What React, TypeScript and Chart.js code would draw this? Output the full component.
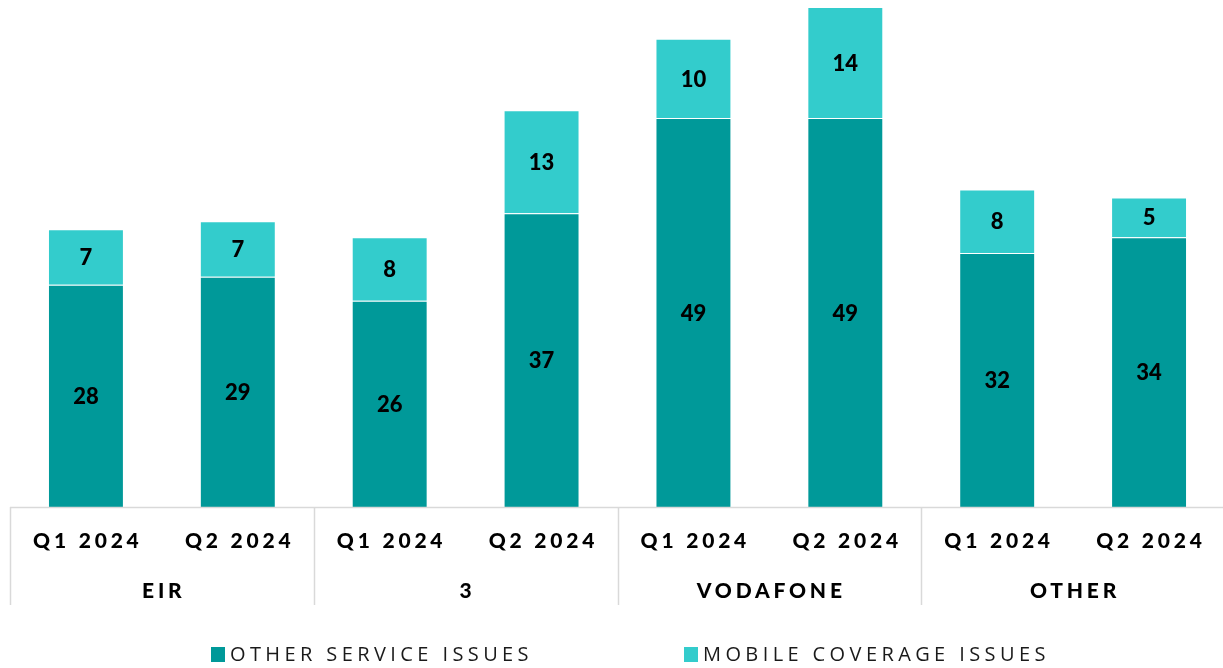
import React, { useEffect, useRef } from "react";
import { Chart, registerables } from "chart.js";

Chart.register(...registerables);

const categories = ["Q1 2024", "Q2 2024", "Q1 2024", "Q2 2024", "Q1 2024", "Q2 2024", "Q1 2024", "Q2 2024"];
const groups = ["EIR", "3", "VODAFONE", "OTHER"];
const otherServiceIssues = [28, 29, 26, 37, 49, 49, 32, 34];
const mobileCoverageIssues = [7, 7, 8, 13, 10, 14, 8, 5];
const seriesNames = ["OTHER SERVICE ISSUES", "MOBILE COVERAGE ISSUES"];
const seriesColors = ["#009999", "#33CCCC"];

const LABEL_FONT = "Lato, 'Open Sans', sans-serif";

const overlayPlugin = {
  id: "overlay",
  afterDatasetsDraw(chart: any) {
    const ctx = chart.ctx as CanvasRenderingContext2D;
    const area = chart.chartArea;
    const xs = chart.scales.x;
    // data labels
    ctx.save();
    ctx.fillStyle = "#000000";
    ctx.font = `900 22px ${LABEL_FONT}`;
    ctx.textAlign = "center";
    ctx.textBaseline = "middle";
    chart.data.datasets.forEach((ds: any, di: number) => {
      const meta = chart.getDatasetMeta(di);
      meta.data.forEach((bar: any, i: number) => {
        const y = (bar.y + bar.base) / 2;
        ctx.fillText(String(ds.data[i]), bar.x, y + 1);
      });
    });
    ctx.restore();

    // axis
    const n = chart.data.labels.length;
    const w = (area.right - area.left) / n;
    const base = area.bottom;
    ctx.save();
    ctx.strokeStyle = "#d9d9d9";
    ctx.lineWidth = 1.5;
    ctx.beginPath();
    ctx.moveTo(area.left, base + 0.5);
    ctx.lineTo(area.right, base + 0.5);
    for (let g = 0; g < groups.length; g++) {
      const x = Math.round(area.left + g * 2 * w) + 0.5;
      ctx.moveTo(x, base);
      ctx.lineTo(x, base + 98);
    }
    ctx.stroke();

    ctx.fillStyle = "#000000";
    ctx.textAlign = "center";
    ctx.textBaseline = "middle";
    ctx.font = `900 21px ${LABEL_FONT}`;
    (ctx as any).letterSpacing = "3.8px";
    categories.forEach((c, i) => {
      const x = xs.getPixelForValue(i);
      ctx.fillText(c, x + 1.9, base + 34);
    });
    groups.forEach((g, gi) => {
      const x = area.left + (gi * 2 + 1) * w;
      ctx.fillText(g, x + 1.9, base + 84);
    });

    // legend
    ctx.font = `400 20px 'Open Sans', sans-serif`;
    (ctx as any).letterSpacing = "4.4px";
    ctx.textAlign = "left";
    const legendX = [211, 684];
    seriesNames.forEach((name, i) => {
      ctx.fillStyle = seriesColors[i];
      ctx.fillRect(legendX[i], 647, 14, 15);
      ctx.fillStyle = "#1a1a1a";
      ctx.fillText(name, legendX[i] + 19, 655);
    });
    ctx.restore();
  },
};

export default function App() {
  const ref = useRef<HTMLCanvasElement | null>(null);
  useEffect(() => {
    if (!ref.current) return;
    const chart = new Chart(ref.current, {
      type: "bar",
      data: {
        labels: categories,
        datasets: [
          {
            label: seriesNames[0],
            data: otherServiceIssues,
            backgroundColor: seriesColors[0],
            borderColor: "rgba(255,255,255,0.35)",
            borderWidth: 1,
            categoryPercentage: 0.5,
            barPercentage: 1,
          },
          {
            label: seriesNames[1],
            data: mobileCoverageIssues,
            backgroundColor: seriesColors[1],
            borderColor: "rgba(255,255,255,0.35)",
            borderWidth: 1,
            categoryPercentage: 0.5,
            barPercentage: 1,
          },
        ],
      },
      options: {
        animation: false,
        responsive: false,
        maintainAspectRatio: false,
        layout: { padding: { left: 10, right: 0, top: 7, bottom: 161 } },
        plugins: { legend: { display: false }, tooltip: { enabled: false } },
        scales: {
          x: {
            stacked: true,
            display: false,
            grid: { display: false },
          },
          y: {
            stacked: true,
            display: false,
            min: 0,
            max: 63,
            grid: { display: false },
          },
        },
      },
      plugins: [overlayPlugin],
    });
    return () => chart.destroy();
  }, []);
  return (
    <div style={{ position: "absolute", left: 0, top: 0, width: 1223, height: 668, overflow: "hidden", background: "#ffffff" }}>
      <canvas ref={ref} width={1225} height={668} style={{ width: 1225, height: 668 }} />
    </div>
  );
}
